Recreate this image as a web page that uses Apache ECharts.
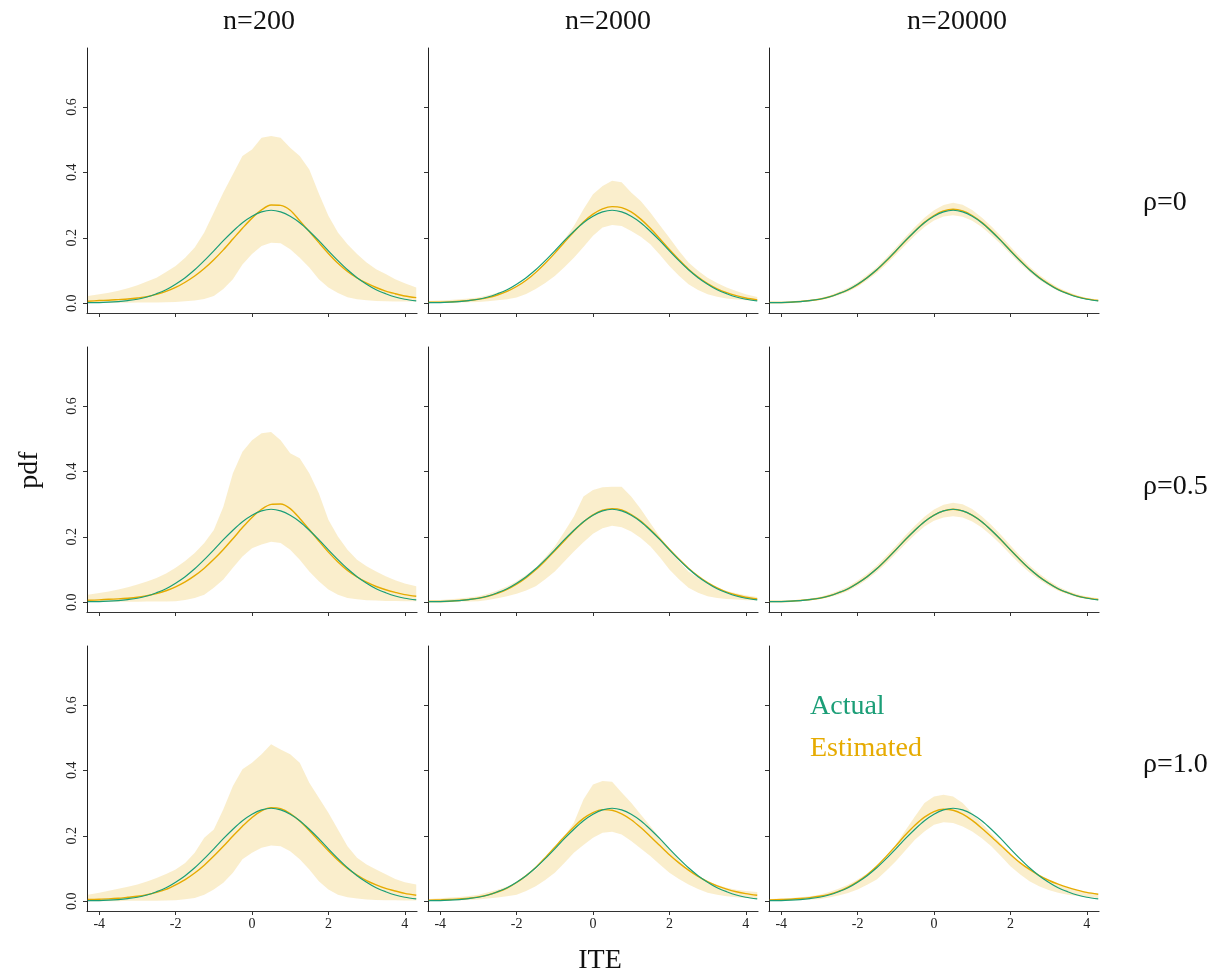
<!DOCTYPE html>
<html>
<head>
<meta charset="utf-8">
<script src="https://cdn.jsdelivr.net/npm/echarts@6/dist/echarts.min.js"></script>
<style>
html,body{margin:0;padding:0;background:#fff;}
#chart{width:1215px;height:975px;}
</style>
</head>
<body>
<div id="chart"></div>
<script>
// ---- data ----
const xs = [-4.3,-4,-3.75,-3.5,-3.25,-3,-2.75,-2.5,-2.25,-2,-1.75,-1.5,-1.25,-1,-0.75,-0.5,-0.25,0,0.25,0.5,0.75,1,1.25,1.5,1.75,2,2.25,2.5,2.75,3,3.25,3.5,3.75,4,4.3];
const xTicks = [-4,-2,0,2,4];
const yTicks = [0,0.2,0.4,0.6];
const colTitles = ['n=200','n=2000','n=20000'];
const rowTitles = ['\u03c1=0','\u03c1=0.5','\u03c1=1.0'];
const legendNames = ['Actual','Estimated'];

const actual = [0.002,0.002,0.003,0.005,0.008,0.012,0.019,0.029,0.041,0.058,0.078,0.102,0.130,0.160,0.191,0.220,0.246,0.266,0.279,0.284,0.279,0.266,0.246,0.220,0.191,0.160,0.130,0.102,0.078,0.058,0.041,0.029,0.019,0.012,0.007];

// rho = 0
const est_200_rho0 = [0.006,0.008,0.009,0.011,0.013,0.016,0.020,0.027,0.036,0.048,0.064,0.083,0.106,0.133,0.163,0.196,0.229,0.260,0.285,0.300,0.299,0.284,0.252,0.219,0.185,0.152,0.122,0.097,0.077,0.061,0.048,0.037,0.029,0.022,0.017];
const hi_200_rho0 = [0.022,0.027,0.032,0.038,0.046,0.055,0.066,0.078,0.095,0.114,0.139,0.170,0.216,0.277,0.338,0.394,0.450,0.470,0.506,0.511,0.506,0.475,0.450,0.409,0.335,0.267,0.216,0.180,0.150,0.124,0.104,0.089,0.073,0.061,0.048];
const lo_200_rho0 = [0.001,0.001,0.001,0.001,0.001,0.002,0.002,0.002,0.003,0.004,0.006,0.008,0.013,0.022,0.043,0.073,0.118,0.150,0.175,0.185,0.183,0.165,0.139,0.109,0.073,0.048,0.031,0.018,0.012,0.009,0.007,0.006,0.005,0.005,0.005];

const est_2000_rho0 = [0.003,0.003,0.004,0.006,0.008,0.012,0.017,0.025,0.036,0.051,0.070,0.094,0.122,0.153,0.186,0.218,0.248,0.272,0.288,0.295,0.292,0.279,0.257,0.229,0.197,0.164,0.133,0.104,0.080,0.060,0.044,0.032,0.023,0.016,0.010];
const hi_2000_rho0 = [0.007,0.008,0.010,0.012,0.014,0.017,0.024,0.032,0.041,0.053,0.070,0.089,0.120,0.155,0.195,0.236,0.287,0.333,0.358,0.374,0.370,0.338,0.312,0.277,0.238,0.200,0.160,0.124,0.099,0.078,0.062,0.048,0.037,0.027,0.019];
const lo_2000_rho0 = [0.000,0.001,0.001,0.002,0.003,0.004,0.006,0.009,0.012,0.017,0.028,0.043,0.062,0.083,0.110,0.139,0.172,0.206,0.231,0.239,0.236,0.221,0.203,0.180,0.148,0.114,0.084,0.058,0.040,0.027,0.020,0.014,0.011,0.009,0.007];

const est_20000_rho0 = [0.002,0.002,0.003,0.005,0.008,0.012,0.019,0.029,0.041,0.057,0.078,0.101,0.129,0.159,0.190,0.220,0.247,0.268,0.282,0.287,0.282,0.268,0.247,0.221,0.192,0.161,0.131,0.103,0.079,0.059,0.042,0.030,0.020,0.013,0.008];
const hi_20000_rho0 = [0.003,0.004,0.005,0.007,0.010,0.015,0.023,0.034,0.047,0.064,0.086,0.110,0.139,0.170,0.202,0.233,0.261,0.284,0.300,0.307,0.301,0.285,0.262,0.235,0.205,0.173,0.142,0.112,0.087,0.066,0.048,0.035,0.024,0.016,0.011];
const lo_20000_rho0 = [0.001,0.001,0.002,0.003,0.006,0.009,0.015,0.024,0.035,0.050,0.070,0.092,0.119,0.148,0.178,0.207,0.233,0.253,0.265,0.269,0.264,0.252,0.233,0.208,0.180,0.150,0.121,0.095,0.072,0.053,0.037,0.026,0.017,0.011,0.006];

// rho = 0.5
const est_200_rho05 = [0.006,0.007,0.009,0.010,0.012,0.015,0.020,0.026,0.035,0.047,0.062,0.081,0.104,0.131,0.161,0.194,0.228,0.259,0.284,0.299,0.300,0.286,0.256,0.222,0.187,0.153,0.123,0.097,0.077,0.061,0.048,0.038,0.030,0.023,0.018];
const hi_200_rho05 = [0.023,0.028,0.033,0.039,0.046,0.054,0.063,0.074,0.088,0.105,0.126,0.150,0.181,0.221,0.292,0.394,0.460,0.495,0.516,0.520,0.495,0.455,0.440,0.394,0.333,0.252,0.201,0.160,0.130,0.110,0.094,0.079,0.067,0.057,0.049];
const lo_200_rho05 = [0.001,0.001,0.001,0.001,0.001,0.001,0.002,0.002,0.002,0.003,0.007,0.013,0.023,0.044,0.069,0.105,0.140,0.165,0.176,0.185,0.181,0.160,0.130,0.094,0.064,0.039,0.023,0.013,0.009,0.006,0.005,0.004,0.004,0.003,0.003];

const est_2000_rho05 = [0.002,0.002,0.003,0.005,0.008,0.012,0.018,0.027,0.039,0.055,0.075,0.099,0.127,0.157,0.188,0.218,0.245,0.267,0.281,0.286,0.282,0.268,0.248,0.222,0.193,0.162,0.132,0.104,0.080,0.060,0.044,0.031,0.022,0.015,0.010];
const hi_2000_rho05 = [0.006,0.007,0.009,0.011,0.014,0.018,0.026,0.036,0.048,0.064,0.083,0.105,0.137,0.171,0.215,0.262,0.323,0.343,0.351,0.353,0.353,0.323,0.285,0.242,0.200,0.160,0.125,0.094,0.075,0.059,0.046,0.034,0.027,0.021,0.016];
const lo_2000_rho05 = [0.001,0.001,0.001,0.002,0.002,0.003,0.007,0.012,0.018,0.026,0.036,0.049,0.070,0.094,0.124,0.155,0.183,0.209,0.226,0.234,0.229,0.216,0.196,0.171,0.137,0.100,0.070,0.044,0.029,0.018,0.013,0.010,0.008,0.006,0.006];

const est_20000_rho05 = [0.002,0.002,0.003,0.005,0.008,0.012,0.019,0.029,0.041,0.058,0.078,0.102,0.130,0.160,0.191,0.220,0.246,0.266,0.279,0.284,0.279,0.266,0.246,0.220,0.191,0.160,0.130,0.102,0.078,0.058,0.041,0.029,0.019,0.013,0.008];
const hi_20000_rho05 = [0.003,0.004,0.005,0.007,0.011,0.016,0.024,0.035,0.048,0.066,0.087,0.112,0.141,0.172,0.204,0.234,0.261,0.283,0.298,0.304,0.299,0.285,0.263,0.236,0.206,0.174,0.142,0.113,0.088,0.066,0.048,0.034,0.024,0.017,0.012];
const lo_20000_rho05 = [0.001,0.001,0.002,0.003,0.005,0.009,0.015,0.023,0.034,0.050,0.069,0.092,0.119,0.148,0.178,0.206,0.231,0.249,0.259,0.263,0.259,0.247,0.228,0.204,0.176,0.146,0.117,0.091,0.069,0.050,0.035,0.024,0.015,0.010,0.006];

// rho = 1.0
const est_200_rho1 = [0.005,0.006,0.007,0.009,0.012,0.015,0.020,0.027,0.036,0.050,0.066,0.086,0.110,0.138,0.168,0.199,0.229,0.256,0.276,0.286,0.283,0.268,0.245,0.216,0.185,0.154,0.125,0.100,0.080,0.063,0.050,0.039,0.031,0.024,0.018];
const hi_200_rho1 = [0.020,0.026,0.032,0.038,0.044,0.051,0.060,0.071,0.083,0.097,0.117,0.148,0.194,0.219,0.281,0.352,0.403,0.423,0.449,0.480,0.464,0.449,0.423,0.362,0.316,0.270,0.219,0.168,0.133,0.112,0.097,0.082,0.068,0.058,0.051];
const lo_200_rho1 = [0.000,0.000,0.000,0.000,0.001,0.001,0.001,0.001,0.002,0.003,0.006,0.010,0.020,0.036,0.056,0.087,0.128,0.148,0.163,0.170,0.168,0.153,0.128,0.097,0.061,0.036,0.020,0.012,0.008,0.005,0.004,0.003,0.003,0.002,0.002];

const est_2000_rho1 = [0.003,0.004,0.005,0.007,0.009,0.013,0.019,0.028,0.040,0.057,0.078,0.103,0.133,0.165,0.197,0.227,0.253,0.271,0.280,0.278,0.267,0.249,0.225,0.198,0.170,0.142,0.117,0.095,0.076,0.060,0.047,0.037,0.029,0.023,0.018];
const hi_2000_rho1 = [0.007,0.009,0.011,0.013,0.016,0.020,0.027,0.035,0.045,0.056,0.075,0.097,0.127,0.158,0.199,0.240,0.311,0.357,0.367,0.365,0.332,0.301,0.265,0.230,0.194,0.158,0.126,0.097,0.077,0.061,0.050,0.041,0.035,0.031,0.028];
const lo_2000_rho1 = [0.002,0.002,0.003,0.003,0.004,0.005,0.008,0.011,0.015,0.020,0.031,0.046,0.065,0.087,0.117,0.148,0.172,0.194,0.209,0.212,0.204,0.184,0.161,0.138,0.112,0.087,0.068,0.051,0.037,0.026,0.020,0.015,0.012,0.010,0.008];

const est_20000_rho1 = [0.004,0.005,0.006,0.008,0.011,0.015,0.021,0.030,0.043,0.060,0.081,0.107,0.137,0.169,0.202,0.232,0.257,0.274,0.281,0.278,0.266,0.247,0.223,0.197,0.170,0.143,0.118,0.097,0.079,0.064,0.052,0.042,0.034,0.027,0.021];
const hi_20000_rho1 = [0.007,0.008,0.010,0.012,0.015,0.020,0.028,0.038,0.050,0.066,0.085,0.107,0.138,0.173,0.216,0.259,0.300,0.320,0.325,0.320,0.300,0.269,0.239,0.208,0.177,0.147,0.120,0.096,0.077,0.061,0.050,0.041,0.034,0.028,0.023];
const lo_20000_rho1 = [0.002,0.002,0.003,0.004,0.005,0.006,0.011,0.017,0.025,0.036,0.050,0.066,0.093,0.122,0.155,0.188,0.213,0.234,0.241,0.239,0.228,0.213,0.192,0.168,0.138,0.107,0.082,0.061,0.046,0.034,0.026,0.020,0.016,0.013,0.010];

// ---- layout ----
const panels = [
  [ {est:est_200_rho0, lo:lo_200_rho0, hi:hi_200_rho0}, {est:est_2000_rho0, lo:lo_2000_rho0, hi:hi_2000_rho0}, {est:est_20000_rho0, lo:lo_20000_rho0, hi:hi_20000_rho0} ],
  [ {est:est_200_rho05, lo:lo_200_rho05, hi:hi_200_rho05}, {est:est_2000_rho05, lo:lo_2000_rho05, hi:hi_2000_rho05}, {est:est_20000_rho05, lo:lo_20000_rho05, hi:hi_20000_rho05} ],
  [ {est:est_200_rho1, lo:lo_200_rho1, hi:hi_200_rho1}, {est:est_2000_rho1, lo:lo_2000_rho1, hi:hi_2000_rho1}, {est:est_20000_rho1, lo:lo_20000_rho1, hi:hi_20000_rho1} ]
];
const colLeft = [87, 428, 769];
const rowTop = [48, 347, 646];
const W = 330, H = 265;
const FONT = '"Liberation Serif", "DejaVu Serif", serif';
const GREEN = '#1b9e77', ORANGE = '#e6ab02', BAND = 'rgba(230,171,2,0.2)';

const grids = [], xAxes = [], yAxes = [], series = [];
let idx = 0;
for (let r = 0; r < 3; r++) {
  for (let c = 0; c < 3; c++) {
    const p = panels[r][c];
    grids.push({left: colLeft[c], top: rowTop[r], width: W, height: H, containLabel: false});
    xAxes.push({
      type: 'value', gridIndex: idx, min: -4.32, max: 4.32,
      splitLine: {show: false},
      axisLine: {show: true, onZero: false, lineStyle: {color: '#333', width: 1.2}},
      axisTick: {show: true, customValues: xTicks, length: 4, lineStyle: {color: '#333'}},
      axisLabel: {show: r === 2, customValues: xTicks, margin: 6, fontFamily: FONT, fontSize: 14, color: '#222',
                  formatter: v => String(v)}
    });
    yAxes.push({
      type: 'value', gridIndex: idx, min: -0.03, max: 0.78,
      splitLine: {show: false},
      axisLine: {show: true, onZero: false, lineStyle: {color: '#222', width: 1}},
      axisTick: {show: true, customValues: yTicks, length: 4, lineStyle: {color: '#333'}},
      axisLabel: {show: c === 0, customValues: yTicks, rotate: 90, margin: 8, fontFamily: FONT, fontSize: 14, color: '#222',
                  formatter: v => v.toFixed(1)}
    });
    // confidence band: one polygon (upper edge forward, lower edge back) built through the axis scales
    const bandData = xs.map((x, k) => [x, p.lo[k], p.hi[k]]);
    series.push({
      type: 'custom', xAxisIndex: idx, yAxisIndex: idx, silent: true, z: 1,
      data: [0],
      renderItem: (function (rows) {
        return function (params, api) {
          const top = rows.map(d => api.coord([d[0], d[2]]));
          const bot = rows.map(d => api.coord([d[0], d[1]])).reverse();
          return {type: 'polygon', shape: {points: top.concat(bot)}, style: {fill: BAND, stroke: null}};
        };
      })(bandData)
    });
    series.push({
      name: legendNames[1], type: 'line', xAxisIndex: idx, yAxisIndex: idx, symbol: 'none', silent: true, smooth: 0.3,
      lineStyle: {color: ORANGE, width: 1.4}, data: xs.map((x, k) => [x, p.est[k]]), z: 3
    });
    series.push({
      name: legendNames[0], type: 'line', xAxisIndex: idx, yAxisIndex: idx, symbol: 'none', silent: true, smooth: 0.3,
      lineStyle: {color: GREEN, width: 1.2}, data: xs.map((x, k) => [x, actual[k]]), z: 4
    });
    idx++;
  }
}

const txt = (x, y, s, opts) => ({
  type: 'text', x: x, y: y,
  style: Object.assign({text: s, fontFamily: FONT, fontSize: 28, fill: '#111', align: 'center', verticalAlign: 'middle'}, opts || {})
});
const titleX = [259, 608, 957];
const rowLabelY = [203, 487, 765];
const graphic = [];
colTitles.forEach((t, i) => graphic.push(txt(titleX[i], 22, t)));
rowTitles.forEach((t, i) => graphic.push(txt(1143, rowLabelY[i], t, {align: 'left'})));
graphic.push(txt(600, 961, 'ITE'));
graphic.push({type: 'text', x: 30, y: 470, rotation: Math.PI / 2,
  style: {text: 'pdf', fontFamily: FONT, fontSize: 28, fill: '#111', align: 'center', verticalAlign: 'middle'}});
graphic.push(txt(810, 707, legendNames[0], {align: 'left', fill: GREEN}));
graphic.push(txt(810, 749, legendNames[1], {align: 'left', fill: ORANGE}));

const chart = echarts.init(document.getElementById('chart'), null, {renderer: 'canvas'});
chart.setOption({
  animation: false,
  backgroundColor: '#fff',
  grid: grids, xAxis: xAxes, yAxis: yAxes, series: series,
  graphic: graphic
});
</script>
</body>
</html>
